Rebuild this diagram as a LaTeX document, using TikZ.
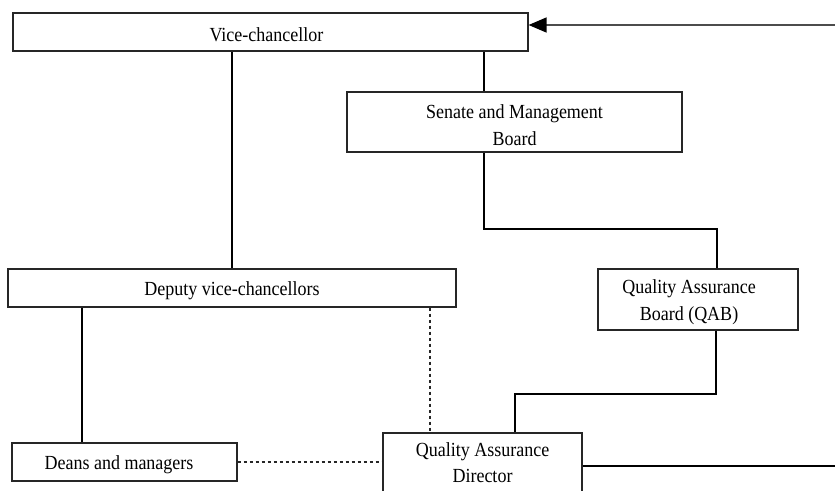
\documentclass[tikz,border=0pt]{standalone}
\usepackage{fontspec}
\setmainfont[FakeStretch=0.9]{Liberation Serif}
\usetikzlibrary{arrows.meta}
\begin{document}
\begin{tikzpicture}[x=1pt,y=-1pt,
  boxline/.style={draw=black!85,line width=1.2pt,rectangle,inner sep=0pt},
  orgbox/.style={boxline,
    label={[font=\fontsize{20}{27}\selectfont,align=center,yshift=-3pt]center:#1}},
  orgboxup/.style={boxline,
    label={[font=\fontsize{20}{26}\selectfont,align=center,yshift=3pt]center:#1}},
  link/.style={draw=black,line width=1.1pt},
  dotlink/.style={draw=black!85,line width=1.1pt,dash pattern=on 3pt off 3pt}]
\useasboundingbox (0,0) rectangle (835,490);
\clip (0,0) rectangle (835,490);
% boxes
\node[orgbox={Vice-chancellor\hspace*{8pt}},minimum width=515pt,minimum height=38pt] (vc) at (270.5,32) {};
\node[orgbox={Senate and Management\\Board},minimum width=335pt,minimum height=60pt] (sen) at (514.5,122) {};
\node[orgbox={Deputy vice-chancellors},minimum width=448pt,minimum height=38pt] (dep) at (232,288) {};
\node[orgbox={Quality Assurance\hspace*{18pt}\\Board (QAB)\hspace*{18pt}},minimum width=200pt,minimum height=61pt] (qab) at (698,299.5) {};
\node[orgbox={Deans and managers\hspace*{11pt}},minimum width=225pt,minimum height=38pt] (deans) at (124.5,462) {};
\node[orgboxup={Quality Assurance\\Director},minimum width=199pt,minimum height=66pt] (qad) at (482.5,466) {};
% helper coordinates
\coordinate (xa) at (484,0);
\coordinate (bend1) at (717,229);
\coordinate (bend2) at (716,394);
\coordinate (bend3) at (515,394);
\coordinate (xb) at (82,0);
\coordinate (xc) at (430,0);
\coordinate (rightA) at (835,25);
\coordinate (rightB) at (835,466);
% connectors
\draw[link] (vc.south -| dep.north) -- (dep.north);
\draw[link] (vc.south -| xa) -- (sen.north -| xa);
\draw[link] (sen.south -| xa) |- (bend1) -- (bend1 |- qab.north);
\draw[link] (bend2 |- qab.south) -- (bend2) -- (bend3) -- (bend3 |- qad.north);
\draw[link] (xb |- dep.south) -- (xb |- deans.north);
\draw[dotlink] (xc |- dep.south) -- (xc |- qad.north);
\draw[dotlink] (deans.east) -- (qad.west |- deans.east);
\draw[link] (qad.east) -- (rightB);
\draw[draw=black!70,line width=1.6pt,-{Triangle[length=18pt,width=15pt,color=black,fill=black]}] (rightA) -- (vc.east |- rightA);
\end{tikzpicture}
\end{document}
